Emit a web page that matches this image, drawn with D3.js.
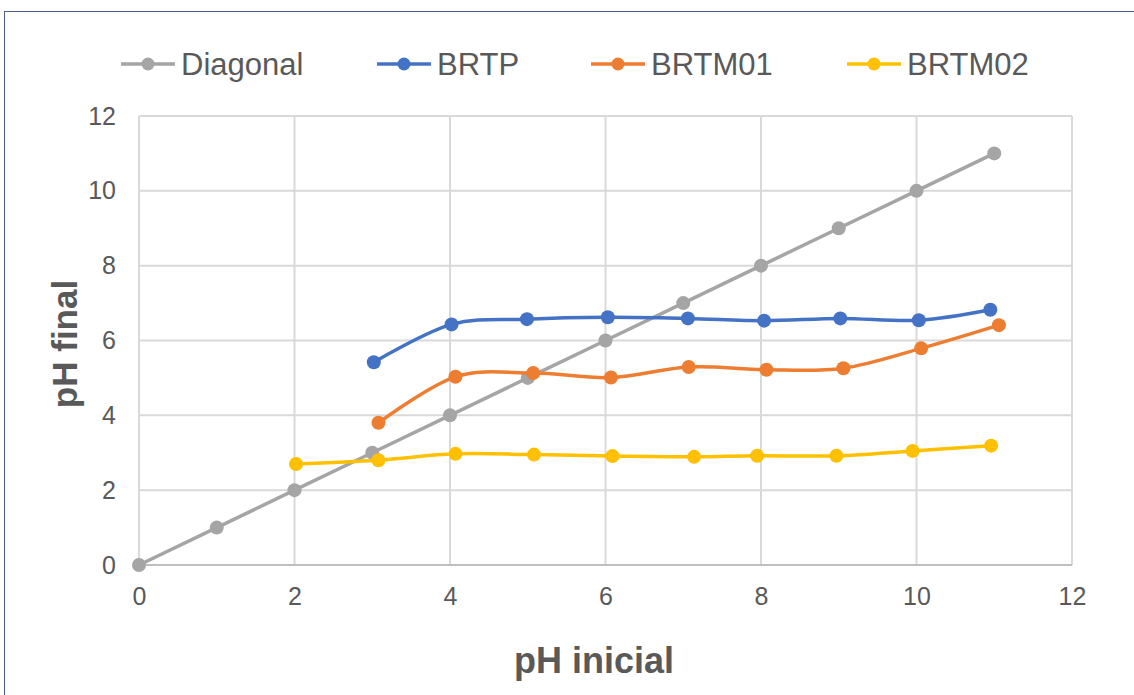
<!DOCTYPE html>
<html>
<head>
<meta charset="utf-8">
<script src="https://cdn.jsdelivr.net/npm/d3@7"></script>
<style>
  html, body { margin: 0; padding: 0; background: #fff; }
  svg { display: block; }
</style>
</head>
<body>
<svg id="chart" width="1134" height="695"></svg>
<script>
// ---- data ----
const seriesNames = ["Diagonal", "BRTP", "BRTM01", "BRTM02"];
const diagonalX = [0, 1, 2, 3, 4, 5, 6, 7, 8, 9, 10, 11];
const diagonalY = [0, 1, 2, 3, 4, 5, 6, 7, 8, 9, 10, 11];
const brtpX = [3.02, 4.02, 4.99, 6.03, 7.06, 8.04, 9.02, 10.03, 10.95];
const brtpY = [5.42, 6.43, 6.57, 6.62, 6.59, 6.53, 6.59, 6.54, 6.82];
const brtm01X = [3.08, 4.07, 5.07, 6.07, 7.07, 8.07, 9.06, 10.06, 11.06];
const brtm01Y = [3.80, 5.03, 5.13, 5.01, 5.29, 5.22, 5.26, 5.79, 6.41];
const brtm02X = [2.02, 3.08, 4.07, 5.08, 6.09, 7.14, 7.95, 8.97, 9.95, 10.96];
const brtm02Y = [2.70, 2.80, 2.97, 2.95, 2.91, 2.89, 2.92, 2.92, 3.05, 3.19];
const xTicks = [0, 2, 4, 6, 8, 10, 12];
const yTicks = [0, 2, 4, 6, 8, 10, 12];
const xTitle = "pH inicial";
const yTitle = "pH final";

const colors = ["#a5a5a5", "#4472c4", "#ed7d31", "#ffc000"];
const series = [
  { name: seriesNames[0], xs: diagonalX, ys: diagonalY, color: colors[0], smooth: false },
  { name: seriesNames[1], xs: brtpX, ys: brtpY, color: colors[1], smooth: true },
  { name: seriesNames[2], xs: brtm01X, ys: brtm01Y, color: colors[2], smooth: true },
  { name: seriesNames[3], xs: brtm02X, ys: brtm02Y, color: colors[3], smooth: true }
];

const svg = d3.select("#chart");
const W = 1134, H = 695;
const plot = { left: 139, right: 1072, top: 116, bottom: 565 };

// border of chart area
svg.append("rect").attr("x", 4.5).attr("y", 11.5).attr("width", W + 10).attr("height", H + 10)
  .attr("fill", "#fff").attr("stroke", "#4a5c8a").attr("stroke-width", 1);

const x = d3.scaleLinear().domain([0, 12]).range([plot.left, plot.right]);
const y = d3.scaleLinear().domain([0, 12]).range([plot.bottom, plot.top]);

const textColor = "#595959";
const font = "Arial, 'Liberation Sans', sans-serif";

// gridlines
const grid = svg.append("g");
grid.selectAll("line.v").data(xTicks).join("line")
  .attr("x1", d => x(d)).attr("x2", d => x(d))
  .attr("y1", plot.top).attr("y2", plot.bottom)
  .attr("stroke", "#d9d9d9").attr("stroke-width", 2);
grid.selectAll("line.h").data(yTicks).join("line")
  .attr("x1", plot.left).attr("x2", plot.right)
  .attr("y1", d => y(d)).attr("y2", d => y(d))
  .attr("stroke", "#d9d9d9").attr("stroke-width", 2);
// bottom axis line
svg.append("line").attr("x1", plot.left).attr("x2", plot.right)
  .attr("y1", y(0)).attr("y2", y(0)).attr("stroke", "#bfbfbf").attr("stroke-width", 2);

// axes (labels only)
const xAxis = d3.axisBottom(x).tickValues(xTicks).tickSize(0).tickPadding(22).tickFormat(d3.format("d"));
const gx = svg.append("g").attr("transform", `translate(0,${plot.bottom})`).call(xAxis);
gx.select(".domain").remove();
gx.selectAll("text").attr("fill", textColor).style("font-family", font).style("font-size", "25px");

const yAxis = d3.axisLeft(y).tickValues(yTicks).tickSize(0).tickPadding(23).tickFormat(d3.format("d"));
const gy = svg.append("g").attr("transform", `translate(${plot.left},0)`).call(yAxis);
gy.select(".domain").remove();
gy.selectAll("text").attr("fill", textColor).style("font-family", font).style("font-size", "25px");

// axis titles
svg.append("text").attr("x", 594).attr("y", 673).attr("text-anchor", "middle")
  .attr("fill", textColor).style("font-family", font).style("font-size", "36px").style("font-weight", "bold")
  .text(xTitle);
svg.append("text").attr("transform", "translate(77,344) rotate(-90)").attr("text-anchor", "middle")
  .attr("fill", textColor).style("font-family", font).style("font-size", "35px").style("font-weight", "bold")
  .text(yTitle);

// series
series.forEach(s => {
  const pts = s.xs.map((v, i) => [v, s.ys[i]]);
  const line = d3.line().x(d => x(d[0])).y(d => y(d[1]))
    .curve(s.smooth ? d3.curveCardinal.tension(0) : d3.curveLinear);
  const g = svg.append("g");
  g.append("path").datum(pts).attr("d", line).attr("fill", "none")
    .attr("stroke", s.color).attr("stroke-width", 3.5).attr("stroke-linecap", "round");
  g.selectAll("circle").data(pts).join("circle")
    .attr("cx", d => x(d[0])).attr("cy", d => y(d[1])).attr("r", 7)
    .attr("fill", s.color);
});

// legend
const legendX = [121, 377, 591, 847];
const leg = svg.append("g");
series.forEach((s, i) => {
  const lx = legendX[i], ly = 64;
  leg.append("line").attr("x1", lx).attr("x2", lx + 54).attr("y1", ly).attr("y2", ly)
    .attr("stroke", s.color).attr("stroke-width", 3.5);
  leg.append("circle").attr("cx", lx + 27).attr("cy", ly).attr("r", 6.5).attr("fill", s.color);
  leg.append("text").attr("x", lx + 60).attr("y", ly + 11)
    .attr("fill", textColor).style("font-family", font).style("font-size", "31px")
    .text(s.name);
});
</script>
</body>
</html>
